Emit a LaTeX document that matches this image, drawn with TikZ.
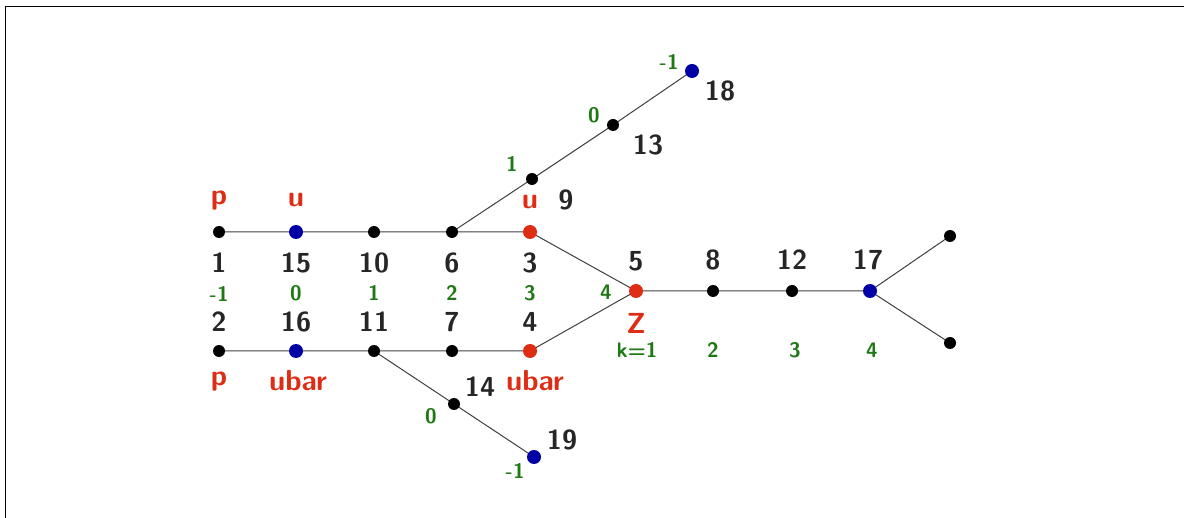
\documentclass[tikz,border=0pt]{standalone}
\usepackage{fontspec}
\begin{document}
\begin{tikzpicture}[x=1pt,y=-1pt,
  edge/.style={draw=black!75, line width=1pt},
  bdot/.style={circle, fill=black, inner sep=0pt, minimum size=12pt},
  rdot/.style={circle, fill=myred, inner sep=0pt, minimum size=14pt},
  udot/.style={circle, fill=myblue, inner sep=0pt, minimum size=14pt},
  num/.style={font=\sffamily\bfseries\fontsize{27.5}{30}\selectfont, text=black!85, inner sep=0pt},
  lab/.style={font=\sffamily\bfseries\fontsize{29}{32}\selectfont, text=myred, inner sep=0pt},
  gl/.style={font=\sffamily\bfseries\fontsize{21}{23}\selectfont, text=mygreen, inner sep=0pt}]
\definecolor{myred}{RGB}{222,45,20}
\definecolor{myblue}{RGB}{0,0,165}
\definecolor{mygreen}{RGB}{30,120,20}
\useasboundingbox (0,0) rectangle (1184,518);
\draw[line width=1pt] (5,530) -- (5,7) -- (1195,7);
% node positions
\coordinate (n1) at (219,232);
\coordinate (n15) at (296,232);
\coordinate (n10) at (374,232);
\coordinate (n6) at (452,232);
\coordinate (n3) at (530,232);
\coordinate (n2) at (219,351);
\coordinate (n16) at (296,351);
\coordinate (n11) at (374,351);
\coordinate (n7) at (452,351);
\coordinate (n4) at (530,351);
\coordinate (n5) at (636,291);
\coordinate (n8) at (713,291);
\coordinate (n12) at (792,291);
\coordinate (n17) at (870,291);
\coordinate (ea) at (950,236);
\coordinate (eb) at (950,343);
\coordinate (n9) at (532,179);
\coordinate (n13) at (613,125);
\coordinate (n18) at (692,71);
\coordinate (n14) at (454,404);
\coordinate (n19) at (534,457);
% edges
\draw[edge] (n1) -- (n15) -- (n10) -- (n6) -- (n3) -- (n5);
\draw[edge] (n2) -- (n16) -- (n11) -- (n7) -- (n4) -- (n5);
\draw[edge] (n5) -- (n8) -- (n12) -- (n17) -- (ea);
\draw[edge] (n17) -- (eb);
\draw[edge] (n6) -- (n9) -- (n13) -- (n18);
\draw[edge] (n11) -- (n14) -- (n19);
% dots
\node[bdot] (d1) at (n1) {};
\node[udot] (d15) at (n15) {};
\node[bdot] (d10) at (n10) {};
\node[bdot] (d6) at (n6) {};
\node[rdot] (d3) at (n3) {};
\node[bdot] (d2) at (n2) {};
\node[udot] (d16) at (n16) {};
\node[bdot] (d11) at (n11) {};
\node[bdot] (d7) at (n7) {};
\node[rdot] (d4) at (n4) {};
\node[rdot] (d5) at (n5) {};
\node[bdot] (d8) at (n8) {};
\node[bdot] (d12) at (n12) {};
\node[udot] (d17) at (n17) {};
\node[bdot] (dea) at (ea) {};
\node[bdot] (deb) at (eb) {};
\node[bdot] (d9) at (n9) {};
\node[bdot] (d13) at (n13) {};
\node[udot] (d18) at (n18) {};
\node[bdot] (d14) at (n14) {};
\node[udot] (d19) at (n19) {};
% numbers
\node[num] (t1) at (219,263) {1};
\node[num] (t15) at (296,263) {15};
\node[num] (t10) at (374,263) {10};
\node[num] (t6) at (452,263) {6};
\node[num] (t3) at (530,263) {3};
\node[num] (t2) at (219,322) {2};
\node[num] (t16) at (296,322) {16};
\node[num] (t11) at (374,322) {11};
\node[num] (t7) at (452,322) {7};
\node[num] (t4) at (530,322) {4};
\node[num] (t5) at (636,261) {5};
\node[num] (t8) at (713,260) {8};
\node[num] (t12) at (792,260) {12};
\node[num] (t17) at (868,260) {17};
\node[num] (t9) at (566,200) {9};
\node[num] (t13) at (648,145) {13};
\node[num] (t18) at (720,91) {18};
\node[num] (t14) at (480,387) {14};
\node[num] (t19) at (562,440) {19};
% red labels
\node[lab] (lp1) at (219,201) {p};
\node[lab] (lu1) at (296,200) {u};
\node[lab] (lu3) at (530,202) {u};
\node[lab] (lp2) at (219,382) {p};
\node[lab] (lub1) at (298,381) {ubar};
\node[lab] (lub2) at (535,381) {ubar};
\node[lab] (lz) at (636,323) {Z};
% green labels
\node[gl] (g1) at (219,294) {-1};
\node[gl] (g2) at (296,293) {0};
\node[gl] (g3) at (374,293) {1};
\node[gl] (g4) at (452,293) {2};
\node[gl] (g5) at (530,293) {3};
\node[gl] (g6) at (606,292) {4};
\node[gl] (g7) at (637,350) {k=1};
\node[gl] (g8) at (713,350) {2};
\node[gl] (g9) at (795,350) {3};
\node[gl] (g10) at (872,350) {4};
\node[gl] (g11) at (512,164) {1};
\node[gl] (g12) at (594,115) {0};
\node[gl] (g13) at (669,62) {-1};
\node[gl] (g14) at (431,416) {0};
\node[gl] (g15) at (515,471) {-1};
\end{tikzpicture}
\end{document}
